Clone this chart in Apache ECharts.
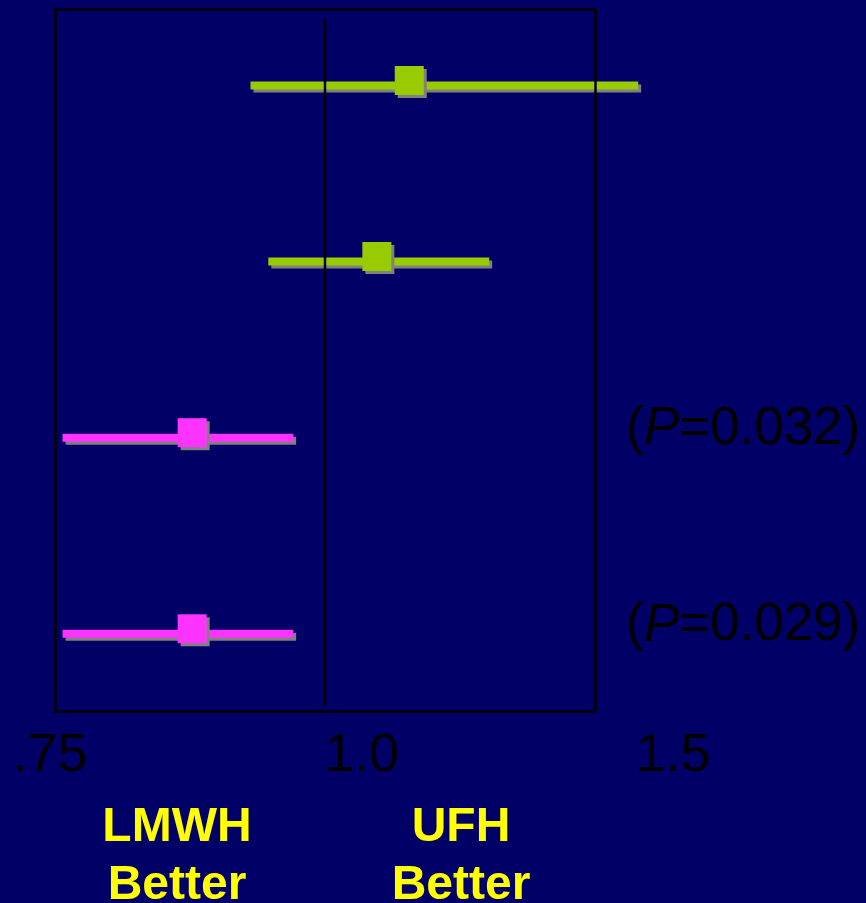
<!DOCTYPE html>
<html>
<head>
<meta charset="utf-8">
<script src="https://cdn.jsdelivr.net/npm/echarts@6/dist/echarts.min.js"></script>
<style>
html,body{margin:0;padding:0;background:#000066;}
#chart{width:866px;height:903px;}
</style>
</head>
<body>
<div id="chart"></div>
<script>
// Forest plot rows (top to bottom)
const rowPos   = [10.9, 35.97, 61.07, 89.0];      // vertical position of each row (0..100, top to bottom)
const lower    = [0.931, 0.9475, 0.757, 0.757];   // lower CI limit
const upper    = [1.290, 1.152, 0.9705, 0.9705];  // upper CI limit
const estimate = [1.078, 1.048, 0.877, 0.877];    // point estimate
const group    = [0, 0, 1, 1];                    // 0 = green, 1 = magenta
const pValues  = ['', '', '0.032', '0.029'];
const tickLabels = ['.75', '1.0', '1.5'];
const refValue = 1.0;
const sideLabels = ['LMWH\nBetter', 'UFH\nBetter'];

const palette = ['#99CC00', '#FF33FF'];
const FONT = 'Liberation Sans, Arial, Helvetica, sans-serif';

const data = rowPos.map((y, i) => [lower[i], upper[i], estimate[i], y, group[i], i]);

const chart = echarts.init(document.getElementById('chart'), null, {renderer: 'canvas'});

function renderRow(params, api) {
  const y = api.value(3);
  const lo = api.coord([api.value(0), y]);
  const hi = api.coord([api.value(1), y]);
  const est = api.coord([api.value(2), y]);
  const color = palette[api.value(4)];
  const idx = api.value(5);
  const barH = 8, sq = 29, sh = 3, lift = 5;
  const children = [
    {type: 'rect', shape: {x: lo[0] + sh, y: lo[1] - barH / 2 + sh, width: hi[0] - lo[0], height: barH}, style: {fill: '#808080'}},
    {type: 'rect', shape: {x: lo[0], y: lo[1] - barH / 2, width: hi[0] - lo[0], height: barH}, style: {fill: color}},
    {type: 'rect', shape: {x: est[0] - sq / 2 + sh, y: est[1] - lift - sq / 2 + sh, width: sq, height: sq}, style: {fill: '#808080'}},
    {type: 'rect', shape: {x: est[0] - sq / 2, y: est[1] - lift - sq / 2, width: sq, height: sq}, style: {fill: color}}
  ];
  if (pValues[idx]) {
    const right = params.coordSys.x + params.coordSys.width;
    children.push({
      type: 'text',
      x: right + 31,
      y: lo[1] - 8,
      style: {
        text: '{n|(}{i|P}{n|=' + pValues[idx] + ')}',
        verticalAlign: 'middle',
        align: 'left',
        rich: {
          n: {fontFamily: FONT, fontSize: 53, fill: '#000'},
          i: {fontFamily: FONT, fontSize: 53, fontStyle: 'italic', fill: '#000'}
        }
      }
    });
  }
  return {type: 'group', children};
}

function renderRef(params, api) {
  const a = api.coord([api.value(0), api.value(1)]);
  const b = api.coord([api.value(0), api.value(2)]);
  return {type: 'line', shape: {x1: a[0], y1: a[1], x2: b[0], y2: b[1]}, style: {stroke: '#000', lineWidth: 2.5}};
}

const boxLine = {show: true, onZero: false, lineStyle: {color: '#000', width: 2.5}};
const hidden = {axisTick: {show: false}, axisLabel: {show: false}, splitLine: {show: false}};

chart.setOption({
  backgroundColor: '#000066',
  animation: false,
  grid: [
    {left: 55, top: 9, width: 540, height: 702},
    {left: 50, top: 9, width: 623, height: 702}
  ],
  xAxis: [
    Object.assign({type: 'value', gridIndex: 0, min: 0.75, max: 1.25, position: 'bottom', axisLine: boxLine, z: 10}, hidden),
    Object.assign({type: 'value', gridIndex: 0, min: 0.75, max: 1.25, position: 'top', axisLine: boxLine, z: 10}, hidden),
    {type: 'category', gridIndex: 1, data: tickLabels, boundaryGap: false,
     axisLine: {show: false}, axisTick: {show: false}, splitLine: {show: false},
     axisLabel: {show: true, interval: 0, margin: 18, color: '#000', fontSize: 54, fontFamily: FONT}}
  ],
  yAxis: [
    Object.assign({type: 'value', gridIndex: 0, min: 0, max: 100, inverse: true, position: 'left', axisLine: boxLine, z: 10}, hidden),
    Object.assign({type: 'value', gridIndex: 0, min: 0, max: 100, inverse: true, position: 'right', axisLine: boxLine, z: 10}, hidden),
    Object.assign({type: 'value', gridIndex: 1, show: false}, hidden)
  ],
  series: [
    {type: 'custom', xAxisIndex: 0, yAxisIndex: 0, renderItem: renderRow, data: data, clip: false, z: 2, silent: true},
    {type: 'custom', xAxisIndex: 0, yAxisIndex: 0, renderItem: renderRef, data: [[refValue, 1.42, 99.3]], clip: false, z: 5, silent: true}
  ],
  graphic: [
    {type: 'text', x: 177, y: 799, style: {text: sideLabels[0], align: 'center', verticalAlign: 'top', fill: '#FFFF00', fontFamily: FONT, fontSize: 48, fontWeight: 'bold', lineHeight: 58}},
    {type: 'text', x: 461, y: 799, style: {text: sideLabels[1], align: 'center', verticalAlign: 'top', fill: '#FFFF00', fontFamily: FONT, fontSize: 48, fontWeight: 'bold', lineHeight: 58}}
  ]
});
</script>
</body>
</html>
